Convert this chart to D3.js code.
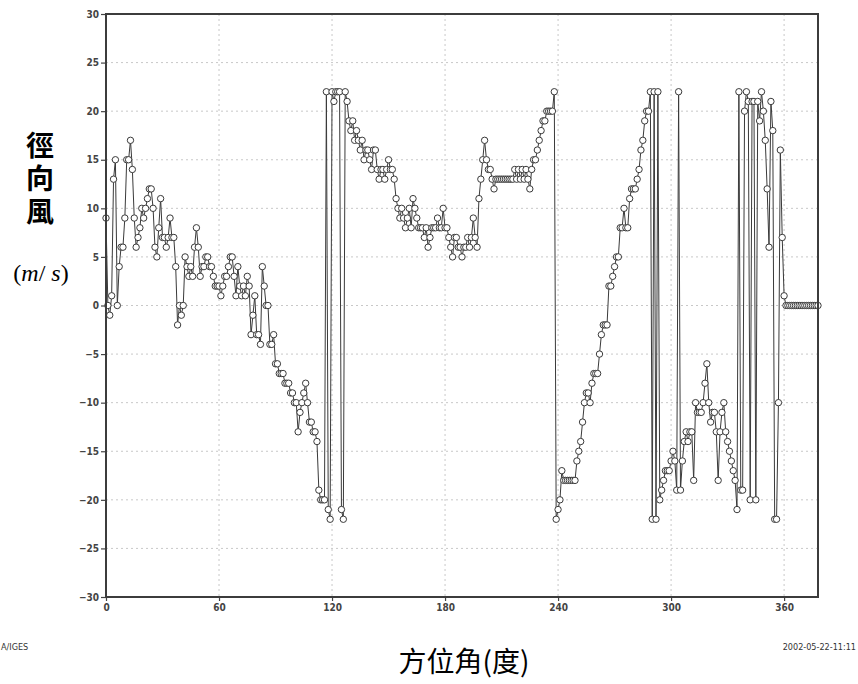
<!DOCTYPE html>
<html>
<head>
<meta charset="utf-8">
<script src="https://cdn.jsdelivr.net/npm/d3@7/dist/d3.min.js"></script>
<style>
  html, body { margin: 0; padding: 0; background: #fff; }
  svg { display: block; }
</style>
</head>
<body>
<svg id="chart" width="858" height="684"></svg>
<script>
// Radial wind (m/s) sampled once per degree of azimuth, starting at 0°.
const radialWind = [
  9, 0, -1, 1, 13, 15, 0, 4, 6, 6,
  9, 15, 15, 17, 14, 9, 6, 7, 8, 10,
  9, 10, 11, 12, 12, 10, 6, 5, 8, 11,
  7, 7, 6, 7, 9, 7, 7, 4, -2, 0,
  -1, 0, 5, 4, 3, 4, 3, 6, 8, 6,
  3, 4, 4, 5, 5, 4, 4, 3, 2, 2,
  2, 1, 2, 3, 3, 4, 5, 5, 3, 1,
  4, 2, 1, 2, 1, 3, 2, -3, -1, 1,
  -3, -3, -4, 4, 2, 0, 0, -4, -4, -3,
  -6, -6, -7, -7, -7, -8, -8, -8, -9, -9,
  -10, -10, -13, -11, -10, -9, -8, -10, -12, -12,
  -13, -13, -14, -19, -20, -20, -20, 22, -21, -22,
  22, 21, 22, 22, 22, -21, -22, 22, 21, 19,
  18, 19, 17, 18, 17, 16, 17, 15, 16, 16,
  15, 14, 16, 16, 14, 13, 14, 14, 13, 14,
  15, 14, 14, 13, 11, 10, 9, 10, 9, 8,
  9, 10, 8, 11, 10, 9, 8, 8, 8, 7,
  8, 6, 7, 8, 8, 8, 9, 8, 8, 10,
  8, 8, 7, 6, 5, 7, 7, 6, 6, 5,
  6, 6, 7, 6, 7, 9, 7, 6, 11, 13,
  15, 17, 15, 14, 14, 13, 12, 13, 13, 13,
  13, 13, 13, 13, 13, 13, 13, 14, 13, 14,
  13, 14, 13, 14, 13, 12, 14, 15, 15, 16,
  17, 18, 19, 19, 20, 20, 20, 20, 22, -22,
  -21, -20, -17, -18, -18, -18, -18, -18, -18, -18,
  -16, -15, -14, -12, -10, -9, -9, -10, -8, -7,
  -7, -7, -5, -3, -2, -2, -2, 2, 2, 3,
  4, 5, 5, 8, 8, 10, 8, 8, 11, 12,
  12, 12, 13, 14, 16, 17, 19, 20, 20, 22,
  -22, 22, -22, 22, -20, -19, -18, -17, -17, -17,
  -16, -15, -16, -19, 22, -19, -16, -14, -13, -14,
  -13, -13, -18, -10, -11, -11, -11, -10, -8, -6,
  -10, -12, -11, -11, -13, -18, -13, -11, -10, -13,
  -14, -15, -16, -17, -18, -21, 22, -19, -19, 20,
  22, 21, -20, 21, 21, -20, 21, 19, 22, 20,
  17, 12, 6, 21, 18, -22, -22, -10, 16, 7,
  1, 0, 0, 0, 0, 0, 0, 0, 0, 0,
  0, 0, 0, 0, 0, 0, 0, 0, 0
];
const azimuthStart = 0;   // degrees
const azimuthStep = 1;    // degrees between samples
const azimuthDomain = [0, 378];
const windDomain = [-30, 30];

const xTickValues = [0, 60, 120, 180, 240, 300, 360];
const yTickValues = [-30, -25, -20, -15, -10, -5, 0, 5, 10, 15, 20, 25, 30];

const yTitle = "徑向風";
const xTitle = "方位角(度)";
const footLeft = "A/IGES";
const footRight = "2002-05-22-11:11";

const points = radialWind.map((v, i) => ({ az: azimuthStart + i * azimuthStep, v }));

const plot = { left: 106, right: 818, top: 14, bottom: 597 };
const svg = d3.select("#chart");

const x = d3.scaleLinear().domain(azimuthDomain).range([plot.left, plot.right]);
const y = d3.scaleLinear().domain(windDomain).range([plot.bottom, plot.top]);

// dotted grid at every labelled tick
const grid = svg.append("g").attr("class", "grid")
  .attr("stroke", "#c8c8c8").attr("stroke-width", 1).attr("stroke-dasharray", "2,3");
grid.selectAll("line.gy").data(yTickValues.filter(d => d > windDomain[0] && d < windDomain[1]))
  .join("line").attr("class", "gy")
  .attr("x1", plot.left).attr("x2", plot.right)
  .attr("y1", d => y(d)).attr("y2", d => y(d));
grid.selectAll("line.gx").data(xTickValues.filter(d => d > azimuthDomain[0]))
  .join("line").attr("class", "gx")
  .attr("y1", plot.top).attr("y2", plot.bottom)
  .attr("x1", d => x(d)).attr("x2", d => x(d));

// axes
const tickFont = "'DejaVu Sans Condensed', 'DejaVu Sans', sans-serif";
const yAxis = svg.append("g")
  .attr("transform", `translate(${plot.left},0)`)
  .call(d3.axisLeft(y).tickValues(yTickValues).tickSize(5).tickPadding(2).tickFormat(d3.format("d")));
const xAxis = svg.append("g")
  .attr("transform", `translate(0,${plot.bottom})`)
  .call(d3.axisBottom(x).tickValues(xTickValues).tickSize(4).tickPadding(3).tickFormat(d3.format("d")));
[xAxis, yAxis].forEach(g => {
  g.select(".domain").remove();
  g.selectAll(".tick line").attr("stroke", "#444").attr("stroke-width", 1.2);
  g.selectAll(".tick text").attr("fill", "#444")
    .style("font-family", tickFont).style("font-size", "10px").style("font-weight", "bold");
});

// series line and open circles
svg.append("path").datum(points)
  .attr("fill", "none").attr("stroke", "#3a3a3a").attr("stroke-width", 1)
  .attr("d", d3.line().x(d => x(d.az)).y(d => y(d.v)));

svg.append("g").selectAll("circle").data(points).join("circle")
  .attr("cx", d => x(d.az)).attr("cy", d => y(d.v)).attr("r", 3.2)
  .attr("fill", "#fff").attr("stroke", "#3a3a3a").attr("stroke-width", 1);

// plot frame
svg.append("rect")
  .attr("x", plot.left).attr("y", plot.top)
  .attr("width", plot.right - plot.left).attr("height", plot.bottom - plot.top)
  .attr("fill", "none").attr("stroke", "#3c3c3c").attr("stroke-width", 2);

// y title written top-to-bottom, then the unit
const cjk = "'Noto Sans CJK TC', 'Noto Sans CJK SC', sans-serif";
svg.append("text")
  .attr("x", 40).attr("y", 131)
  .style("writing-mode", "vertical-rl")
  .style("font-family", cjk).style("font-size", "28px").style("font-weight", "bold")
  .style("letter-spacing", "5px")
  .attr("fill", "#000").text(yTitle);

const unit = svg.append("text").attr("x", 41).attr("y", 281).attr("text-anchor", "middle")
  .style("font-family", "'Liberation Serif', 'Times New Roman', serif").style("font-size", "24px")
  .attr("fill", "#000");
unit.append("tspan").text("(");
unit.append("tspan").style("font-style", "italic").text("m");
unit.append("tspan").text("/ ");
unit.append("tspan").style("font-style", "italic").text("s");
unit.append("tspan").text(")");

// x title
svg.append("text").attr("x", 464).attr("y", 672).attr("text-anchor", "middle")
  .style("font-family", cjk).style("font-size", "28px").attr("fill", "#000")
  .text(xTitle);

// footer labels
svg.append("text").attr("x", 1).attr("y", 650)
  .style("font-family", tickFont).style("font-size", "9px").attr("fill", "#333")
  .text(footLeft);
svg.append("text").attr("x", 856).attr("y", 650).attr("text-anchor", "end")
  .style("font-family", tickFont).style("font-size", "9px").attr("fill", "#333")
  .text(footRight);
</script>
</body>
</html>
